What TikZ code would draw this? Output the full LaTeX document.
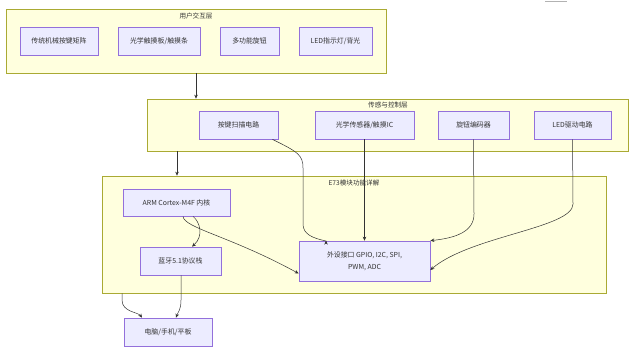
\documentclass[tikz,border=0pt]{standalone}
\usepackage{fontspec}
\setmainfont{Noto Sans CJK SC}
\usetikzlibrary{arrows.meta}
\definecolor{clfill}{HTML}{FFFFDE}
\definecolor{cldraw}{HTML}{AAAA33}
\definecolor{ndfill}{HTML}{ECECFF}
\definecolor{nddraw}{HTML}{9370DB}
\definecolor{txt}{HTML}{333333}
\tikzset{
  cluster/.style={draw=cldraw, fill=clfill, line width=0.7pt, inner sep=0pt},
  ttl/.style={text=txt, font=\fontsize{6.6}{8}\selectfont, inner sep=0pt},
  box/.style={draw=nddraw, fill=ndfill, line width=0.7pt, text=txt,
    font=\fontsize{6.9}{12}\selectfont, align=center, inner sep=0pt, minimum height=28pt},
  arr/.style={draw=txt, line width=0.5pt, -{Stealth[length=4pt,width=3.5pt]}},
  ln/.style={draw=txt, line width=0.5pt}
}
\begin{document}
\begin{tikzpicture}[x=1pt,y=-1pt]
\useasboundingbox (0,0) rectangle (636,349);
\draw[gray!60, line width=0.6pt] (545,0.8) -- (567,0.8);
% clusters
\path[cluster] (6,9) rectangle (386,73);
\node[cluster, draw=none, fill=none, minimum width=380pt, minimum height=64pt] (userC) at (196,41) {};
\node[ttl] (userT) at (196,15.5) {用户交互层};
\path[cluster] (147,99) rectangle (628,151);
\node[cluster, draw=none, fill=none, minimum width=481pt, minimum height=52pt] (sensC) at (387.5,125) {};
\node[ttl] (sensT) at (388,105.5) {传感与控制层};
\path[cluster] (102,176) rectangle (606,293);
\node[cluster, draw=none, fill=none, minimum width=504pt, minimum height=117pt] (e73C) at (354,234.5) {};
\node[ttl] (e73T) at (354,183) {E73模块功能详解};
% user layer nodes
\node[box, minimum width=78pt] (keys) at (59,41) {传统机械按键矩阵};
\node[box, minimum width=82pt] (touch) at (159,41) {光学触摸板/触摸条};
\node[box, minimum width=59pt] (knob) at (249.5,41) {多功能旋钮};
\node[box, minimum width=73pt] (led) at (335.5,41) {LED指示灯/背光};
% sensing layer nodes
\node[box, minimum width=79pt] (scan) at (238.5,125) {按键扫描电路};
\node[box, minimum width=99pt] (optic) at (364.5,125) {光学传感器/触摸IC};
\node[box, minimum width=71pt] (enc) at (473.5,125) {旋钮编码器};
\node[box, minimum width=77pt] (ledd) at (572.5,125) {LED驱动电路};
% E73 nodes
\node[box, minimum width=107pt, minimum height=27pt] (arm) at (176.5,202.5) {ARM Cortex-M4F 内核};
\node[box, minimum width=81pt] (bt) at (180.5,261) {蓝牙5.1协议栈};
\node[box, minimum width=131pt, minimum height=40pt] (per) at (364.5,261) {外设接口 GPIO, I2C, SPI,\\PWM, ADC};
\node[box, minimum width=88pt] (pc) at (168,332) {电脑/手机/平板};
% connectors
\draw[arr] (userC.south -| 196,0) -- (sensC.north -| 196,0);
\draw[arr] (sensC.south -| 177,0) -- (e73C.north -| 177,0);
\draw[arr] ([xshift=34pt]scan.south) .. controls (298,152) and (303,155) .. (303,168)
  -- (303,224) .. controls (303,234) and (312,238) .. (326,241) -- (per.north -| 326,0);
\draw[arr] (optic.south) -- (per.north -| optic.south);
\draw[arr] (enc.south) -- (474,214) .. controls (474,232) and (455,238) .. (per.north east);
\draw[arr] (ledd.south) -- (573,204) .. controls (573,228) and (470,236) .. ([yshift=-9pt]per.east);
\draw[arr] ([xshift=6.5pt]arm.south) .. controls (184,228) and (230,236) .. ([yshift=-12.5pt]per.west);
\draw[arr] ([xshift=16.5pt]arm.south) .. controls (200,222) and (204,236) .. ([xshift=11.5pt]bt.north);
\draw[arr] ([xshift=0.5pt]bt.south) -- (181,300) .. controls (181,310) and (178,312) .. ([xshift=8pt]pc.north);
\draw[arr] (e73C.south -| 122,0) -- (122,300) .. controls (122,312) and (138,312) .. ([xshift=-26pt]pc.north);
\end{tikzpicture}
\end{document}
